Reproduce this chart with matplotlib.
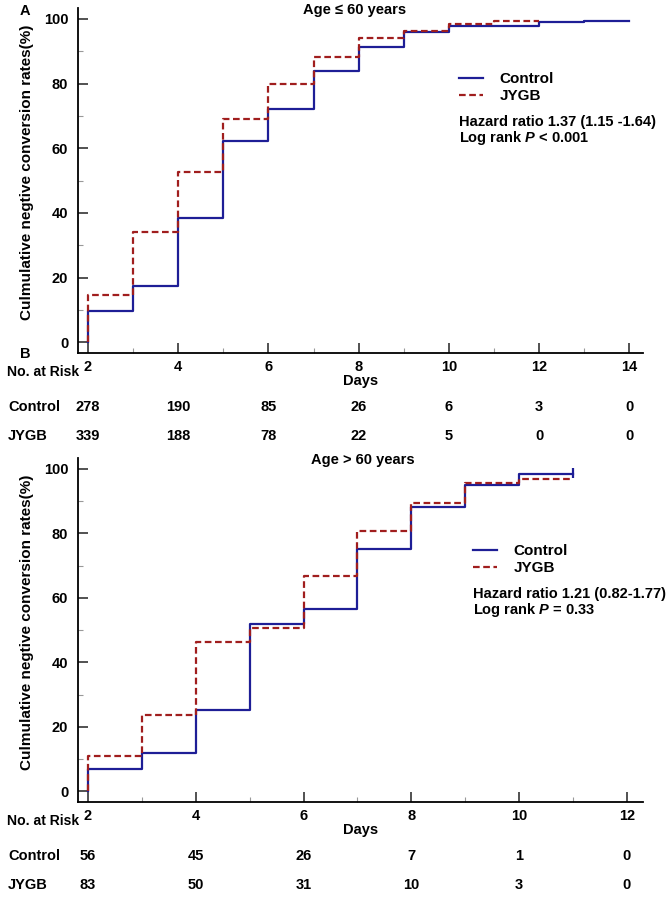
import matplotlib
matplotlib.use('Agg')
import matplotlib.pyplot as plt
from matplotlib.ticker import MultipleLocator
from matplotlib.transforms import blended_transform_factory

plt.rcParams['font.family'] = ['Liberation Sans', 'DejaVu Sans']
plt.rcParams['font.weight'] = 'bold'
plt.rcParams['mathtext.fontset'] = 'custom'
plt.rcParams['mathtext.it'] = 'Liberation Sans:italic:bold'
plt.rcParams['mathtext.rm'] = 'Liberation Sans:bold'

# ---- data ----
# panel A: age <= 60
ctrl_a_days = [2, 3, 4, 5, 6, 7, 8, 9, 10, 12, 13]
ctrl_a_rate = [9.7, 17.3, 38.3, 62.2, 72.3, 84.0, 91.4, 95.9, 97.7, 99.0, 99.5]
ctrl_a_end = 14
jygb_a_days = [2, 3, 4, 5, 6, 7, 8, 9, 10, 11]
jygb_a_rate = [14.5, 34.1, 52.6, 69.0, 80.0, 88.3, 94.2, 96.4, 98.3, 99.5]
jygb_a_end = 12

# panel B: age > 60
ctrl_b_days = [2, 3, 4, 5, 6, 7, 8, 9, 10]
ctrl_b_rate = [6.8, 11.8, 25.2, 51.9, 56.6, 75.1, 88.3, 95.0, 98.4]
ctrl_b_end = 11
jygb_b_days = [2, 3, 4, 5, 6, 7, 8, 9, 10]
jygb_b_rate = [10.9, 23.6, 46.3, 50.7, 66.7, 80.8, 89.4, 95.6, 96.8]
jygb_b_end = 11

risk_days_a = [2, 4, 6, 8, 10, 12, 14]
risk_ctrl_a = [278, 190, 85, 26, 6, 3, 0]
risk_jygb_a = [339, 188, 78, 22, 5, 0, 0]
risk_days_b = [2, 4, 6, 8, 10, 12]
risk_ctrl_b = [56, 45, 26, 7, 1, 0]
risk_jygb_b = [83, 50, 31, 10, 3, 0]

W, H = 670, 899
BLUE = '#1e1e96'
RED = '#a01e1e'
FS = 10.5


def fx(px):
    return px / W


def fy(py):
    return 1 - py / H


def step_xy(days, rate, end):
    return [days[0]] + days + [end], [0] + rate + [rate[-1]]


fig = plt.figure(figsize=(6.7, 8.99), dpi=100)


def panel(top, bottom, xmax, cd, cr, ce, jd, jr, je, title, title_x, leg_y, hr_txt, p_txt, leg_x,
          rdays, rctrl, rjygb, risk_y, censor=False):
    ax = fig.add_axes([fx(78), fy(bottom), fx(643) - fx(78), fy(top) - fy(bottom)])
    x, y = step_xy(cd, cr, ce)
    lc, = ax.step(x, y, where='post', color=BLUE, lw=1.6, label='Control')
    x, y = step_xy(jd, jr, je)
    lj, = ax.step(x, y, where='post', color=RED, lw=1.6, ls=(0, (3, 1.6)), label='JYGB')
    if censor:
        ax.plot([ce], [cr[-1] + 0.5], marker='|', ms=7, mew=1.6, color=BLUE)
    ax.set_xlim(2 - 10 / ((643 - 78 - 10) / (xmax - 2 + 0.3)), xmax + 0.3)
    ax.set_ylim(-3.3, 103.4)
    ax.spines['top'].set_visible(False)
    ax.spines['right'].set_visible(False)
    for s in ('left', 'bottom'):
        ax.spines[s].set_linewidth(1.3)
    ax.xaxis.set_major_locator(MultipleLocator(2))
    ax.xaxis.set_minor_locator(MultipleLocator(1))
    ax.yaxis.set_major_locator(MultipleLocator(20))
    ax.yaxis.set_minor_locator(MultipleLocator(10))
    ax.tick_params(which='major', direction='in', length=7, width=1.2, labelsize=FS, color='#333333')
    ax.tick_params(which='minor', direction='in', length=3.5, width=0.8, color='#999999')
    ax.tick_params(axis='x', pad=5)
    ax.tick_params(axis='y', pad=7)
    for lab in ax.get_xticklabels() + ax.get_yticklabels():
        lab.set_fontweight('bold')
    ax.set_xlabel('Days', fontsize=FS, fontweight='bold', labelpad=0)
    fig.text(fx(27), fy((top + bottom) / 2 - 8), 'Culmulative negtive conversion rates(%)',
             fontsize=11, fontweight='bold', rotation=90, ha='center', va='center')
    fig.text(fx(title_x), fy(top + 2), title, fontsize=FS, fontweight='bold',
             ha='center', va='center')

    fig.legend(handles=[lc, lj], loc='upper left',
               bbox_to_anchor=(fx(leg_x), fy(leg_y - 9)), frameon=False,
               borderpad=0, borderaxespad=0, handlelength=1.6, handletextpad=1.05,
               labelspacing=0.2, prop={'size': 11, 'weight': 'bold'})
    fig.text(fx(leg_x), fy(leg_y + 41), hr_txt, fontsize=FS, fontweight='bold', va='center')
    fig.text(fx(leg_x), fy(leg_y + 57), p_txt, fontsize=FS, fontweight='bold', va='center')

    tr = blended_transform_factory(ax.transData, fig.transFigure)
    fig.text(fx(7), fy(risk_y + 1), 'No. at Risk', fontsize=10.1, fontweight='bold', va='center')
    fig.text(fx(8), fy(risk_y + 36), 'Control', fontsize=FS, fontweight='bold', va='center')
    fig.text(fx(8), fy(risk_y + 65), 'JYGB', fontsize=FS, fontweight='bold', va='center')
    for d, c, j in zip(rdays, rctrl, rjygb):
        ax.text(d, fy(risk_y + 36), str(c), transform=tr, fontsize=FS, fontweight='bold',
                ha='center', va='center')
        ax.text(d, fy(risk_y + 65), str(j), transform=tr, fontsize=FS, fontweight='bold',
                ha='center', va='center')
    return ax


panel(8, 353, 14, ctrl_a_days, ctrl_a_rate, ctrl_a_end, jygb_a_days, jygb_a_rate, jygb_a_end,
      'Age \u2264 60 years', 355, 81, 'Hazard ratio 1.37 (1.15 -1.64)', 'Log rank $P$ < 0.001', 459,
      risk_days_a, risk_ctrl_a, risk_jygb_a, 371)
panel(458, 802, 12, ctrl_b_days, ctrl_b_rate, ctrl_b_end, jygb_b_days, jygb_b_rate, jygb_b_end,
      'Age > 60 years', 363, 553, 'Hazard ratio 1.21 (0.82-1.77)', 'Log rank $P$ = 0.33', 473,
      risk_days_b, risk_ctrl_b, risk_jygb_b, 820, censor=True)

fig.text(fx(25), fy(11), 'A', fontsize=FS, fontweight='bold', ha='center', va='center')
fig.text(fx(25), fy(354), 'B', fontsize=FS, fontweight='bold', ha='center', va='center')

fig.savefig('out.png', dpi=100)
